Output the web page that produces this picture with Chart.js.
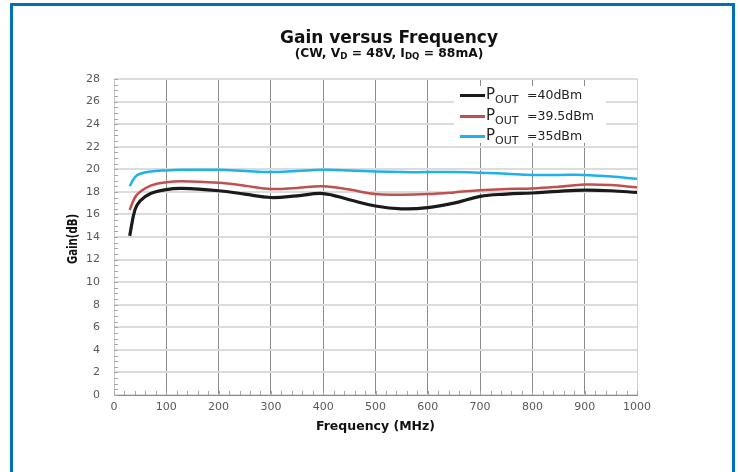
<!DOCTYPE html>
<html>
<head>
<meta charset="utf-8">
<script src="https://cdn.jsdelivr.net/npm/chart.js@4/dist/chart.umd.min.js"></script>
<style>
  body { margin: 0; background: #fff; }
  #wrap { position: relative; width: 740px; height: 472px; overflow: hidden; font-family: "DejaVu Sans", sans-serif; }
  #frame { position: absolute; left: 10px; top: 3px; width: 719px; height: 480px; border: 3px solid #0070b8; }
  canvas { position: absolute; left: 0; top: 0; }
  #title { position: absolute; left: 389px; top: 27px; transform: translateX(-50%); white-space: nowrap; font-weight: bold; font-size: 17px; color: #111; }
  #subtitle { position: absolute; left: 389px; top: 46px; transform: translateX(-50%); white-space: nowrap; font-weight: bold; font-size: 12.3px; color: #111; }
  sub { font-size: 70%; vertical-align: -2px; line-height: 0; }
  #legend { position: absolute; left: 454px; top: 86px; width: 152px; height: 57px; background: #fff; font-size: 12.5px; color: #222; }
  .row { position: absolute; left: 6px; height: 20px; white-space: nowrap; }
  .swatch { position: absolute; left: 0; top: 8px; width: 25px; height: 3px; }
  .p { position: absolute; left: 26px; top: -1px; font-size: 15px; }
  .p sub { font-size: 11px; vertical-align: -4px; }
  .val { position: absolute; left: 67px; top: 1px; }
</style>
</head>
<body>
<div id="wrap">
  <div id="frame"></div>
  <canvas id="chart" width="740" height="472"></canvas>
  <div id="title">Gain versus Frequency</div>
  <div id="subtitle">(CW, V<sub>D</sub> = 48V, I<sub>DQ</sub> = 88mA)</div>
  <div id="legend"></div>
</div>
<script>
const freq = [30, 40, 50, 70, 100, 130, 200, 250, 300, 350, 400, 450, 500, 550, 600, 650, 700, 750, 800, 850, 900, 950, 1000]
const gain40 = [14.1, 16.4, 17.2, 17.85, 18.2, 18.3, 18.1, 17.8, 17.5, 17.65, 17.85, 17.3, 16.75, 16.5, 16.6, 17.0, 17.6, 17.8, 17.9, 18.05, 18.15, 18.1, 17.95]
const gain395 = [16.4, 17.5, 18.0, 18.55, 18.85, 18.95, 18.8, 18.55, 18.25, 18.35, 18.5, 18.2, 17.8, 17.75, 17.8, 17.95, 18.15, 18.25, 18.3, 18.45, 18.65, 18.6, 18.4]
const gain35 = [18.5, 19.3, 19.6, 19.8, 19.9, 19.95, 19.95, 19.85, 19.75, 19.85, 19.95, 19.9, 19.8, 19.75, 19.75, 19.75, 19.7, 19.6, 19.5, 19.5, 19.5, 19.35, 19.15]
const seriesNames = ["=40dBm", "=39.5dBm", "=35dBm"]
const seriesColors = ["#1a1a1a", "#c0504d", "#1fb0ee"]
const seriesWidths = [3.2, 2.5, 2.5]
const yTitle = 'Gain(dB)'

const allGain = [gain40, gain395, gain35]

function pts(ys) {
    return freq.map((f, i) => ({ x: f, y: ys[i] }))
}

// small inside ticks like the excel original
const minorTicks = {
    id: 'minorTicks',
    beforeDatasetsDraw(chart) {
        const ctx = chart.ctx
        const xs = chart.scales.x, ys = chart.scales.y
        ctx.save()
        ctx.strokeStyle = '#a6a6a6'
        ctx.lineWidth = 1
        ctx.beginPath()
        for (let v = 0; v <= 28; v += 0.5) {
            const py = Math.round(ys.getPixelForValue(v)) + 0.5
            ctx.moveTo(xs.left, py)
            ctx.lineTo(xs.left + 4, py)
        }
        for (let v = 0; v <= 1000; v += 20) {
            const px = Math.round(xs.getPixelForValue(v)) + 0.5
            ctx.moveTo(px, ys.bottom)
            ctx.lineTo(px, ys.bottom - 4)
        }
        ctx.stroke()
        ctx.restore()
    }
}

// y title is condensed in the original, squeeze it a bit
const yTitlePlugin = {
    id: 'yTitle',
    afterDraw(chart) {
        const ctx = chart.ctx
        const ys = chart.scales.y
        ctx.save()
        ctx.font = 'bold 14px "DejaVu Sans"'
        ctx.fillStyle = '#111'
        ctx.textAlign = 'center'
        ctx.textBaseline = 'middle'
        ctx.translate(73, (ys.top + ys.bottom) / 2 + 2)
        ctx.rotate(-Math.PI / 2)
        const w = ctx.measureText(yTitle).width
        ctx.scale(50 / w, 1)
        ctx.fillText(yTitle, 0, 0)
        ctx.restore()
    }
}

new Chart(document.getElementById("chart"), {
    type: 'line',
    data: {
        datasets: allGain.map((g, i) => ({
            label: 'POUT ' + seriesNames[i],
            data: pts(g),
            borderColor: seriesColors[i],
            borderWidth: seriesWidths[i],
            pointRadius: 0,
            tension: 0.4,
            fill: false
        })).reverse()
    },
    options: {
        responsive: false,
        animation: false,
        layout: { padding: { left: 60, top: 79, right: 103, bottom: 34 } },
        plugins: { legend: { display: false }, tooltip: { enabled: false } },
        scales: {
            x: {
                type: 'linear', min: 0, max: 1000,
                afterFit: s => { s.height = 43 },
                ticks: { stepSize: 100, padding: 6, color: '#595959', font: { family: 'DejaVu Sans', size: 11 }, callback: v => String(v) },
                grid: {
                    drawTicks: false, lineWidth: 1,
                    color: c => (c.tick.value === 0 || c.tick.value === 1000) ? '#d0d0d0' : '#8c8c8c'
                },
                border: { color: '#8c8c8c', width: 1 },
                title: { display: true, text: 'Frequency (MHz)', color: '#111', padding: { top: 4, bottom: 4 }, font: { family: 'DejaVu Sans', size: 12.5, weight: 'bold' } }
            },
            y: {
                min: 0, max: 28,
                afterFit: s => { s.width = 54 },
                ticks: { stepSize: 2, padding: 14, color: '#595959', font: { family: 'DejaVu Sans', size: 11 } },
                grid: { drawTicks: false, lineWidth: 2, color: '#dcdcdc' },
                border: { color: '#c8c8c8', width: 1 },
                title: { display: false }
            }
        }
    },
    plugins: [minorTicks, yTitlePlugin]
});

// legend built from the same series arrays
const legend = document.getElementById("legend")
seriesNames.forEach((n, i) => {
    const row = document.createElement('div')
    row.className = 'row'
    row.style.top = (i * 20.5) + 'px'
    row.innerHTML = '<div class="swatch" style="background:' + seriesColors[i] + '"></div>' +
        '<span class="p">P<sub>OUT</sub></span><span class="val">' + n + '</span>'
    legend.appendChild(row)
})
</script>
</body>
</html>
